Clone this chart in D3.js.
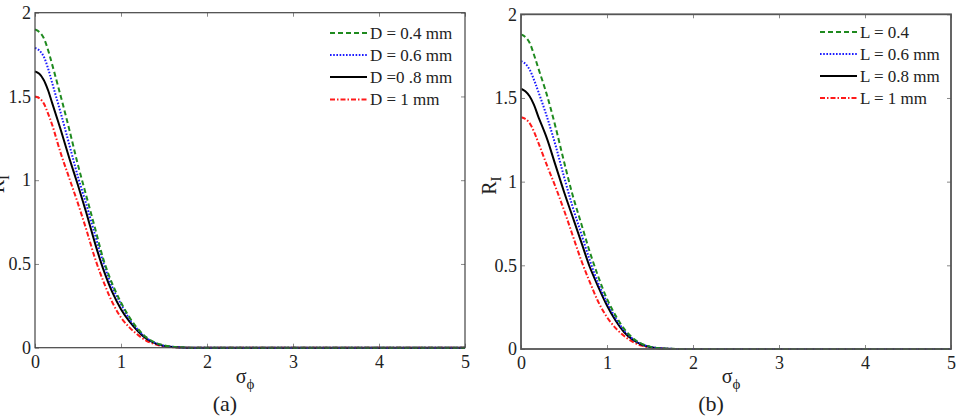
<!DOCTYPE html>
<html><head><meta charset="utf-8">
<script src="https://cdn.jsdelivr.net/npm/d3@7"></script>
<style>body{margin:0;background:#fff}svg{display:block}text{font-family:"Liberation Serif","Times New Roman",serif;fill:#222}</style>
</head><body><svg id="c" width="961" height="418"></svg>
<script>
const sigma = [0,0.05,0.1,0.15,0.2,0.3,0.4,0.5,0.6,0.7,0.8,0.9,1.0,1.1,1.2,1.3,1.4,1.5,1.6,1.7,1.8,2,2.5,3,3.5,4,4.5,5];
// Panel (a): varying D
const aD04 = [1.90,1.885,1.85,1.78,1.69,1.50,1.30,1.09,0.90,0.71,0.52,0.38,0.27,0.18,0.11,0.06,0.03,0.014,0.006,0.002,0,0,0,0,0,0,0,0];
const aD06 = [1.79,1.775,1.74,1.67,1.58,1.40,1.21,1.02,0.85,0.67,0.50,0.36,0.26,0.17,0.105,0.057,0.028,0.012,0.005,0.001,0,0,0,0,0,0,0,0];
const aD08 = [1.65,1.635,1.60,1.54,1.46,1.30,1.13,0.97,0.80,0.62,0.46,0.33,0.23,0.155,0.097,0.052,0.026,0.011,0.004,0.001,0,0,0,0,0,0,0,0];
const aD10 = [1.50,1.49,1.46,1.40,1.33,1.16,1.01,0.86,0.70,0.53,0.39,0.27,0.18,0.12,0.075,0.04,0.02,0.008,0.003,0.001,0,0,0,0,0,0,0,0];
// Panel (b): varying L
const bL04 = [1.88,1.865,1.83,1.76,1.68,1.52,1.33,1.12,0.92,0.75,0.58,0.43,0.30,0.20,0.12,0.065,0.032,0.014,0.005,0.002,0,0,0,0,0,0,0,0];
const bL06 = [1.72,1.705,1.67,1.61,1.54,1.39,1.22,1.03,0.85,0.69,0.53,0.39,0.28,0.185,0.11,0.06,0.03,0.013,0.005,0.002,0,0,0,0,0,0,0,0];
const bL08 = [1.555,1.54,1.51,1.46,1.39,1.26,1.10,0.94,0.79,0.64,0.49,0.37,0.26,0.17,0.10,0.055,0.027,0.012,0.004,0.001,0,0,0,0,0,0,0,0];
const bL10 = [1.385,1.375,1.35,1.30,1.235,1.10,0.97,0.83,0.68,0.53,0.40,0.28,0.19,0.125,0.078,0.042,0.02,0.009,0.003,0.001,0,0,0,0,0,0,0,0];
const legendA = ["D = 0.4 mm","D = 0.6 mm","D =0 .8 mm","D = 1 mm"];
const legendB = ["L = 0.4","L = 0.6 mm","L = 0.8 mm","L = 1 mm"];
const xTicks = [0,1,2,3,4,5];
const yTicks = [0,0.5,1,1.5,2];
const yTickLabels = ["0","0.5","1","1.5","2"];
const panelLabels = ["(a)","(b)"];

const styles = [
  {color:"#1f8a1f", dash:"5,3"},
  {color:"#1a1aff", dash:"1.6,1.6"},
  {color:"#000000", dash:null},
  {color:"#ff1a1a", dash:"5,2,1.5,2"}
];

const svg = d3.select("#c");
const panels = [
  {x0:35, x1:465, y0:12.7, y1:347.7, series:[aD04,aD06,aD08,aD10], legend:legendA, legX:330, legY:[33,55,77,99.5], ylabX:-2, frame:"#444", fw:1.2},
  {x0:521, x1:951, y0:14.3, y1:349, series:[bL04,bL06,bL08,bL10], legend:legendB, legX:820, legY:[32,54,76,98], ylabX:490, frame:"#555", fw:1.8}
];

panels.forEach((p,pi)=>{
  const x = d3.scaleLinear().domain([0,5]).range([p.x0,p.x1]);
  const y = d3.scaleLinear().domain([0,2]).range([p.y1,p.y0]);
  const g = svg.append("g");
  const tl = 4;
  const axB = d3.axisBottom(x).tickValues(xTicks).tickSize(-tl).tickFormat(d=>d);
  const axT = d3.axisTop(x).tickValues(xTicks).tickSize(-tl).tickFormat("");
  const axL = d3.axisLeft(y).tickValues(yTicks).tickSize(-tl).tickFormat((d,i)=>yTickLabels[i]);
  const axR = d3.axisRight(y).tickValues(yTicks).tickSize(-tl).tickFormat("");
  const gb = g.append("g").attr("transform",`translate(0,${p.y1})`).call(axB);
  const gt = g.append("g").attr("transform",`translate(0,${p.y0})`).call(axT);
  const gl = g.append("g").attr("transform",`translate(${p.x0},0)`).call(axL);
  const gr = g.append("g").attr("transform",`translate(${p.x1},0)`).call(axR);
  [gb,gt,gl,gr].forEach(a=>{a.select(".domain").remove(); a.selectAll(".tick line").attr("stroke","#888").attr("stroke-width",1);});
  gb.selectAll(".tick text").attr("font-size",18).attr("dy","0.95em").attr("fill","#222").style("font-family","Liberation Serif");
  gl.selectAll(".tick text").attr("font-size",18).attr("dx","-0.05em").attr("fill","#222").style("font-family","Liberation Serif");
  const line = d3.line().x((d,i)=>x(sigma[i])).y(d=>y(d)).curve(d3.curveCatmullRom.alpha(0.5));
  [3,2,1,0].forEach(k=>{
    const s = styles[k];
    g.append("path").datum(p.series[k]).attr("d",line).attr("fill","none")
      .attr("stroke",s.color).attr("stroke-width",2).attr("stroke-dasharray",s.dash);
  });
  g.append("rect").attr("x",p.x0).attr("y",p.y0).attr("width",p.x1-p.x0).attr("height",p.y1-p.y0)
    .attr("fill","none").attr("stroke",p.frame).attr("stroke-width",p.fw);
  p.legend.forEach((t,k)=>{
    const s = styles[k];
    g.append("line").attr("x1",p.legX).attr("x2",p.legX+37).attr("y1",p.legY[k]).attr("y2",p.legY[k])
      .attr("stroke",s.color).attr("stroke-width",2).attr("stroke-dasharray",s.dash);
    g.append("text").attr("x",p.legX+40).attr("y",p.legY[k]).attr("dy","0.35em").attr("font-size",17).text(t);
  });
  const cx = (p.x0+p.x1)/2 - 5;
  const xl = g.append("text").attr("x",cx).attr("y",383).attr("font-size",20).attr("text-anchor","middle");
  xl.append("tspan").text("σ");
  xl.append("tspan").attr("font-size",15).attr("dy",6).text("ϕ");
  const yl = g.append("text").attr("transform",`translate(${p.ylabX+6},${(p.y0+p.y1)/2+4}) rotate(-90)`)
    .attr("font-size",20).attr("text-anchor","middle");
  yl.append("tspan").text("R");
  yl.append("tspan").attr("font-size",15).attr("dy",5).text("I");
  g.append("text").attr("x",cx-20).attr("y",411).attr("font-size",22).attr("text-anchor","middle").text(panelLabels[pi]);
});
</script></body></html>
